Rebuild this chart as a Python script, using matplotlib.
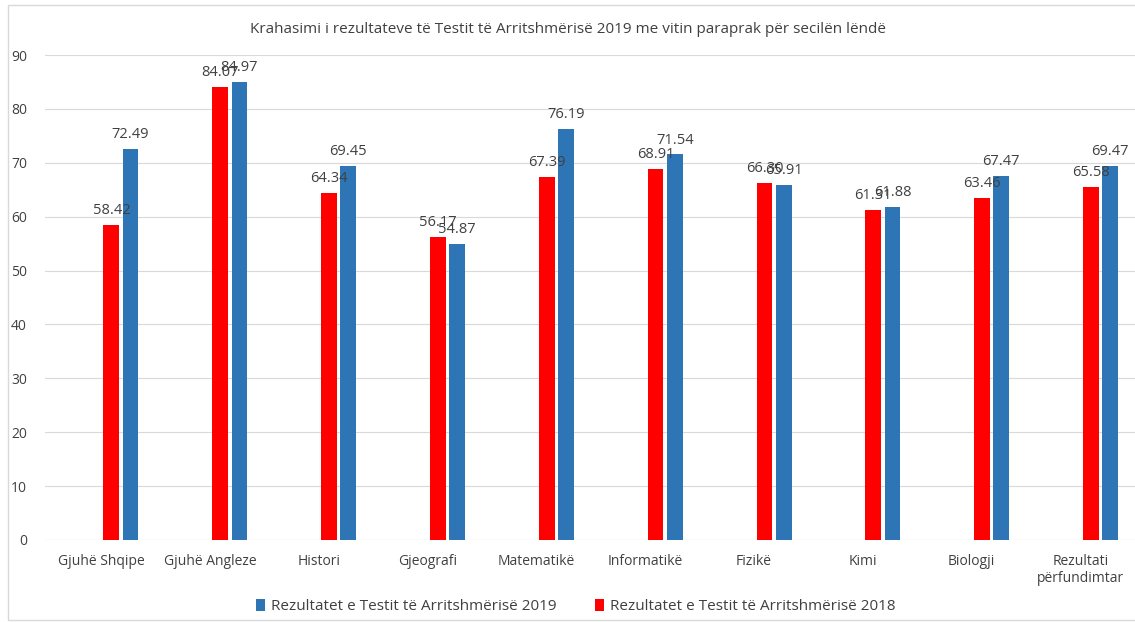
import matplotlib
matplotlib.use("Agg")
import matplotlib.pyplot as plt
import numpy as np

categories = ["Gjuhë Shqipe", "Gjuhë Angleze", "Histori", "Gjeografi", "Matematikë",
              "Informatikë", "Fizikë", "Kimi", "Biologji", "Rezultati\npërfundimtar"]
vals_2018 = [58.42, 84.07, 64.34, 56.17, 67.39, 68.91, 66.30, 61.31, 63.46, 65.58]
vals_2019 = [72.49, 84.97, 69.45, 54.87, 76.19, 71.54, 65.91, 61.88, 67.47, 69.47]
label_2018 = "Rezultatet e Testit të Arritshmërisë 2018"
label_2019 = "Rezultatet e Testit të Arritshmërisë 2019"
title = "Krahasimi i rezultateve të Testit të Arritshmërisë 2019 me vitin paraprak për secilën lëndë"

plt.rcParams['font.family'] = ['Liberation Sans Narrow', 'Open Sans', 'DejaVu Sans']
txt = '#404040'

fig = plt.figure(figsize=(11.35, 6.22), dpi=100)
ax = fig.add_axes([0.0396, 0.132, 0.9604, 0.7795])
x = np.arange(len(categories))
w = 0.145
b1 = ax.bar(x + 0.095, vals_2018, w, color='#ff0000', label=label_2018, zorder=3)
b2 = ax.bar(x + 0.272, vals_2019, w, color='#2e75b6', label=label_2019, zorder=3)
for rects, vals in ((b1, vals_2018), (b2, vals_2019)):
    for r, v in zip(rects, vals):
        ax.annotate(f"{v:.2f}", (r.get_x() + r.get_width()/2, v), xytext=(0, 5),
                    textcoords='offset points', ha='center', va='bottom',
                    fontsize=10.5, color=txt, zorder=4)

ax.set_ylim(0, 90)
ax.set_xlim(-0.515, 9.5)
ax.set_yticks(range(0, 91, 10))
ax.set_xticks(x)
ax.set_xticklabels(categories, fontsize=10, color=txt, va='top')
ax.tick_params(axis='both', length=0, labelsize=10, labelcolor=txt)
ax.tick_params(axis='x', pad=10)
ax.tick_params(axis='y', pad=13)
ax.yaxis.grid(True, color='#d9d9d9', linewidth=0.8, zorder=0)
for s in ax.spines.values():
    s.set_visible(False)
ax.axhline(0, color='#d9d9d9', linewidth=0.8, zorder=1)

fig.text(0.5, 0.952, title, ha='center', va='center', fontsize=11, color=txt)

handles = [b2, b1]
fig.legend(handles, [label_2019, label_2018], loc='center', bbox_to_anchor=(0.507, 0.025),
           ncol=2, frameon=False, fontsize=11, labelcolor=txt, handlelength=0.6,
           handleheight=0.9, columnspacing=2.5, handletextpad=0.4)

fig.patches.append(plt.Rectangle((0.007, 0.004), 1.1, 0.988, transform=fig.transFigure,
                                 fill=False, edgecolor='#d9d9d9', linewidth=1))
fig.savefig("out.png", dpi=100)
